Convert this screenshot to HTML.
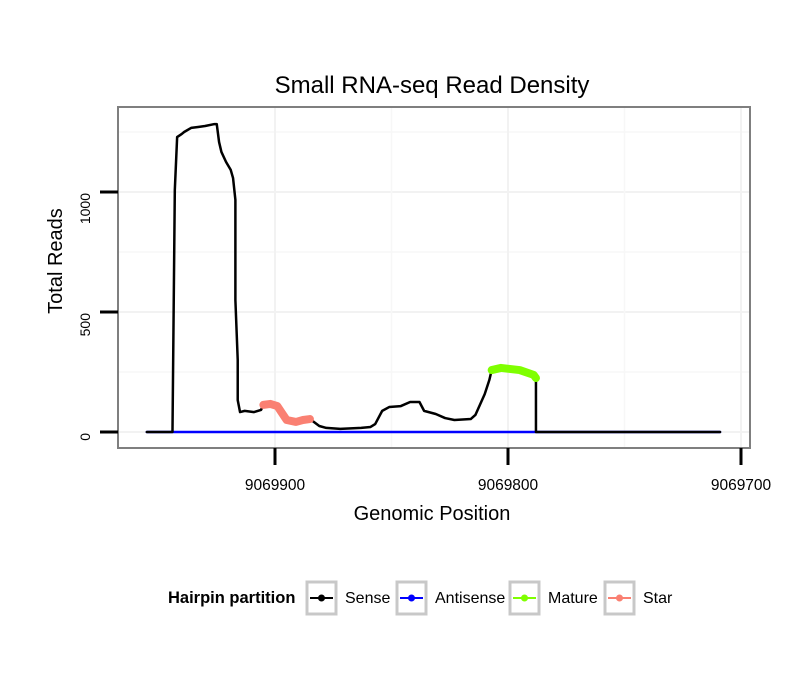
<!DOCTYPE html>
<html><head><meta charset="utf-8"><style>
body{margin:0;background:#fff;font-family:"Liberation Sans",sans-serif}
</style></head><body>
<svg id="chart" width="810" height="690" xmlns="http://www.w3.org/2000/svg" font-family="Liberation Sans, sans-serif">
<rect width="810" height="690" fill="#fff"/>
<text x="432" y="93" font-size="24" text-anchor="middle">Small RNA-seq Read Density</text>
<g id="grid"></g>
<g id="series"></g>
<rect x="118" y="107" width="632" height="341" fill="none" stroke="#7f7f7f" stroke-width="2"/>
<g id="axes"></g>
<text x="432" y="520" font-size="20" text-anchor="middle">Genomic Position</text>
<text transform="translate(62,261) rotate(-90)" font-size="20" text-anchor="middle">Total Reads</text>
<g id="legend">
<text x="168" y="603" font-size="16.5" font-weight="bold">Hairpin partition</text>
</g>
</svg>
<script>
const sensePos=[9069955,9069944,9069943,9069942,9069940,9069939,9069936,9069933,9069930,9069926,9069925,9069924,9069923,9069921,9069919,9069918,9069917,9069917,9069916,9069916,9069915,9069913,9069909,9069906,9069905,9069902,9069899,9069897,9069895,9069891,9069888,9069885,9069881,9069878,9069872,9069863,9069859,9069857,9069854,9069851,9069846,9069842,9069838,9069836,9069831,9069827,9069823,9069816,9069814,9069810,9069808,9069807,9069803,9069795,9069789,9069788,9069788,9069709];
const senseVal=[0,0,1008,1229,1242,1250,1267,1271,1275,1283,1283,1208,1167,1125,1092,1058,967,550,300,133,83,88,83,92,113,117,108,79,50,42,50,54,25,17,13,17,21,33,88,104,108,125,125,88,75,58,50,54,71,158,217,258,267,258,238,225,0,0];
const antiPos=[9069955,9069709];
const antiVal=[0,0];
const starPos=[9069905,9069902,9069899,9069897,9069895,9069891,9069888,9069885];
const starVal=[113,117,108,79,50,42,50,54];
const maturePos=[9069807,9069803,9069795,9069789,9069788];
const matureVal=[258,267,258,238,225];
const xTicks=[9069900,9069800,9069700];
const yTicks=[0,500,1000];
const xs=p=>275+(9069900-p)*2.33;
const ys=v=>432-v*0.24;
const NS='http://www.w3.org/2000/svg';
function mk(parent,tag,attrs){const e=document.createElementNS(NS,tag);for(const k in attrs)e.setAttribute(k,attrs[k]);parent.appendChild(e);return e;}
const grid=document.getElementById('grid'),ser=document.getElementById('series'),ax=document.getElementById('axes'),lg=document.getElementById('legend');
[250,750,1250].forEach(v=>{const l=mk(grid,'line',{x1:118,x2:750,y1:ys(v),y2:ys(v),stroke:'#f7f7f7','stroke-width':1.5});

});
yTicks.forEach(v=>{const l=mk(grid,'line',{x1:118,x2:750,y1:ys(v),y2:ys(v),stroke:'#f2f2f2','stroke-width':2});


const t=mk(ax,'line',{x1:100,x2:118,y1:ys(v),y2:ys(v),stroke:'#000','stroke-width':3});


const tx=mk(ax,'text',{transform:`translate(90,${ys(v)+1}) rotate(-90)`,'font-size':14,'text-anchor':'end'});tx.textContent=v;

});
[9069850,9069750].forEach(p=>{const l=mk(grid,'line',{x1:xs(p),x2:xs(p),y1:107,y2:448,stroke:'#f7f7f7','stroke-width':1.5});

});
xTicks.forEach(p=>{const l=mk(grid,'line',{x1:xs(p),x2:xs(p),y1:107,y2:448,stroke:'#f2f2f2','stroke-width':2});


const t=mk(ax,'line',{x1:xs(p),x2:xs(p),y1:448,y2:465,stroke:'#000','stroke-width':3});


const tx=mk(ax,'text',{x:xs(p),y:490,'font-size':15.5,'text-anchor':'middle'});tx.textContent=p;

});
function line(pos,val,color,w,name){const pts=pos.map((p,i)=>xs(p)+','+ys(val[i])).join(' ');
const pl=mk(ser,'polyline',{points:pts,fill:'none',stroke:color,'stroke-width':w,'stroke-linejoin':'round','stroke-linecap':'round'});

}
line(antiPos,antiVal,'#0000ff',2.5,'antisense-line');
line(sensePos,senseVal,'#000',2.5,'sense-line');
line(starPos,starVal,'#fa8072',8,'star-line');
line(maturePos,matureVal,'#7fff00',8,'mature-line');
const keys=[['Sense','#000',307],['Antisense','#0000ff',397],['Mature','#7fff00',510],['Star','#fa8072',605]];
keys.forEach(k=>{const g=mk(lg,'g',{});


mk(g,'rect',{x:k[2],y:582,width:29,height:32,fill:'#fff',stroke:'#c8c8c8','stroke-width':3});
mk(g,'line',{x1:k[2]+3,x2:k[2]+26,y1:598,y2:598,stroke:k[1],'stroke-width':2});
mk(g,'circle',{cx:k[2]+14.5,cy:598,r:3.5,fill:k[1]});
const t=mk(g,'text',{x:k[2]+38,y:603,'font-size':16});t.textContent=k[0];});
</script>
</body></html>
